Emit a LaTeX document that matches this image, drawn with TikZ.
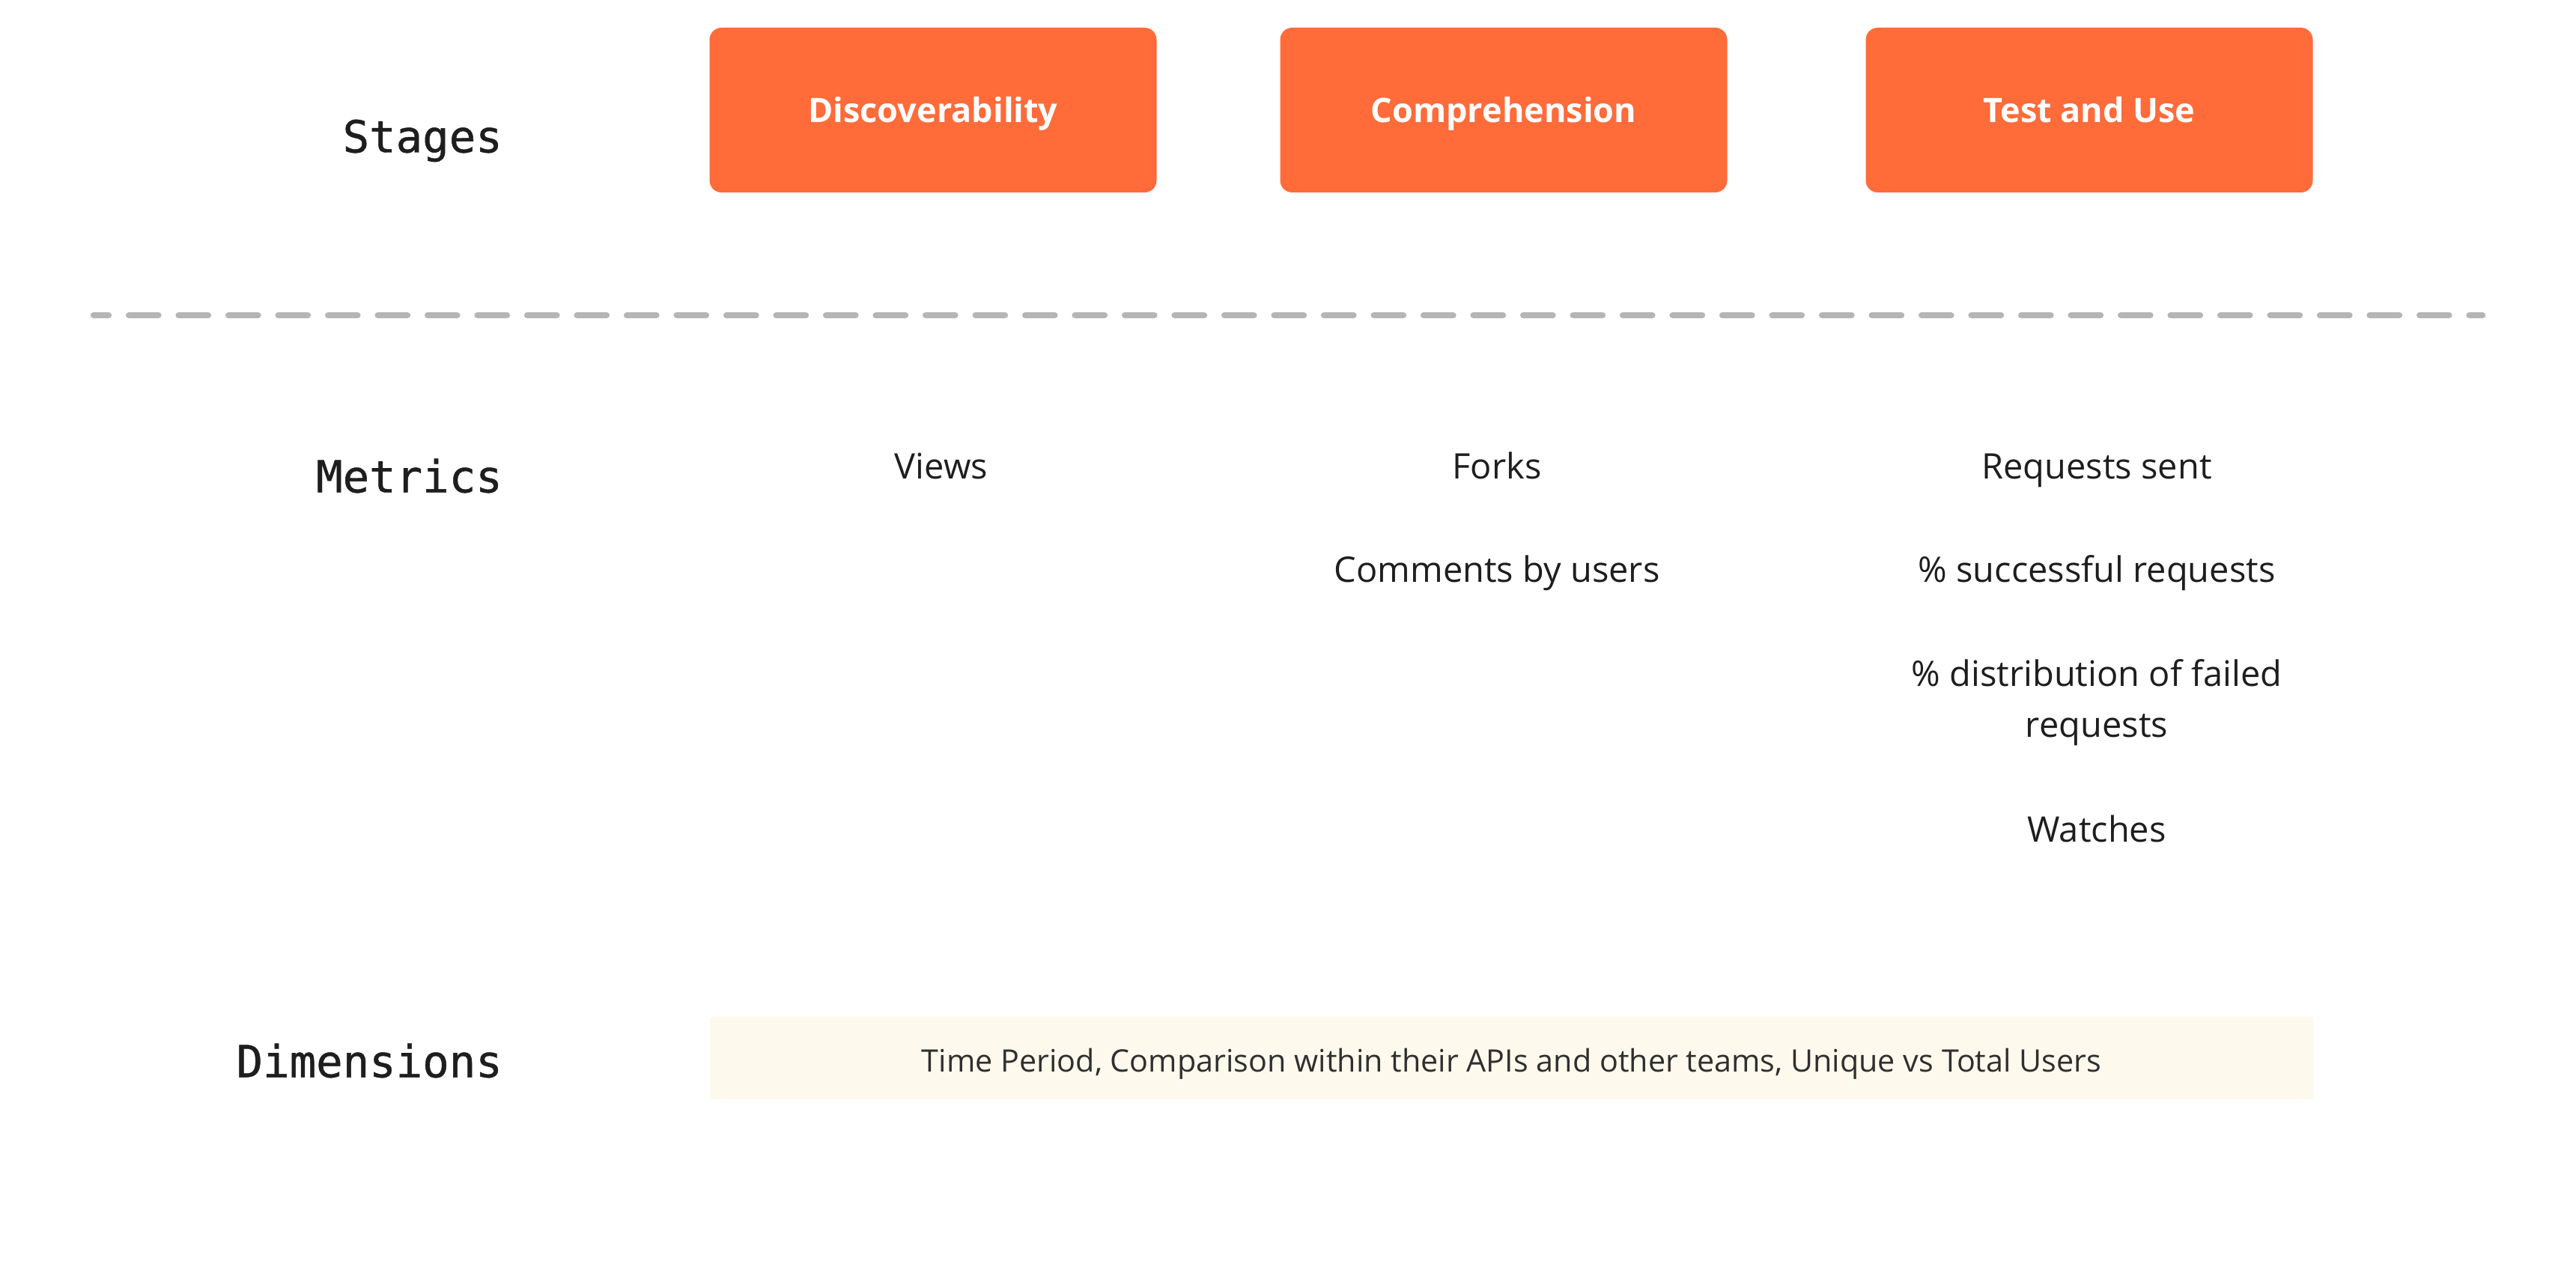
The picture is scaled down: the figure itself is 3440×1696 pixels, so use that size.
\documentclass[tikz,border=0pt]{standalone}
\usepackage{fontspec}
\setmainfont{Open Sans}
\newfontfamily\monof[FakeBold=0.8]{DejaVu Sans Mono}
\definecolor{stageorange}{HTML}{FF6B39}
\definecolor{ink}{HTML}{1E1E1E}
\definecolor{dimfill}{HTML}{FEF9ED}
\definecolor{divgray}{HTML}{B5B5B5}
\definecolor{dimtext}{HTML}{2F2F2F}
\begin{document}
\begin{tikzpicture}[x=1pt,y=-1pt]
\tikzset{
  stagebox/.style={fill=stageorange, rounded corners=16pt, minimum width=597pt,
    minimum height=220pt, inner sep=0pt, text=white,
    text height=32.1pt, text depth=0pt,
    font=\fontsize{45}{52}\selectfont\bfseries},
  rowlabel/.style={anchor=east, text=ink, inner sep=0pt,
    text height=43pt, text depth=0pt,
    font=\monof\fontsize{59}{70}\selectfont},
  metric/.style={text=ink, align=center, inner sep=0pt,
    text height=33.6pt, text depth=0pt,
    font=\fontsize{47}{68}\selectfont},
  dimbox/.style={fill=dimfill, rounded corners=2pt, minimum width=2141pt,
    minimum height=110pt, inner sep=0pt, text=dimtext,
    text height=37.5pt, text depth=0pt,
    font=\fontsize{41.3}{46}\selectfont},
  divider/.style={draw=divgray, line width=8.3pt, line cap=round,
    dash pattern=on 39.4pt off 27.1pt, dash phase=19.4pt}
}
\fill[white] (0,0) rectangle (3440,1696);
\useasboundingbox (0,0) rectangle (3440,1696);

% row labels
\node[rowlabel] (lstages) at (671,182) {Stages};
\node[rowlabel] (lmetrics) at (671,636) {Metrics};
\node[rowlabel] (ldims) at (671,1417) {Dimensions};

% stage boxes
\node[stagebox] (s1) at (1246,147) {Discoverability};
\node[stagebox] (s2) at (2008,147) {Comprehension};
\node[stagebox] (s3) at (2790,147) {Test and Use};

% divider
\coordinate (dl) at (125,421);
\coordinate (dr) at (3315,421);
\draw[divider] (dl) -- (dr);

% metrics
\node[metric] (m11) at (1257,623) {Views};
\node[metric] (m21) at (1999,623) {Forks};
\node[metric] (m22) at (1999,761) {Comments by users};
\node[metric] (m31) at (2800,623) {Requests sent};
\node[metric] (m32) at (2800,761) {\% successful requests};
\node[metric, text height=101.6pt] (m33) at (2800,934) {\% distribution of failed\\requests};
\node[metric] (m34) at (2800,1108) {Watches};

% dimensions
\node[dimbox] (dim) at (2018.5,1413) {Time Period, Comparison within their APIs and other teams, Unique vs Total Users};
\end{tikzpicture}
\end{document}
